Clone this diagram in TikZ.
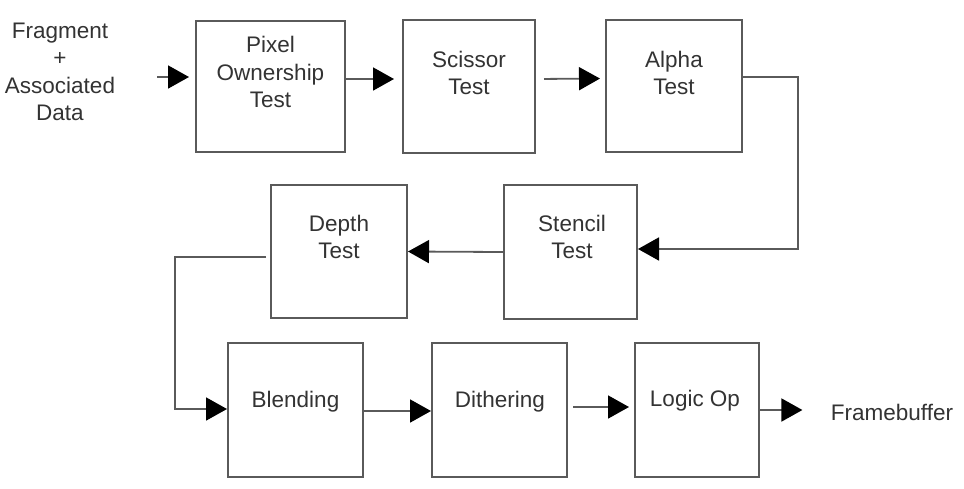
\documentclass[tikz,border=0pt]{standalone}
\usepackage{fontspec}
\setmainfont{Liberation Sans}
\usetikzlibrary{arrows.meta}
\definecolor{linegray}{HTML}{5A5A5A}
\definecolor{txtgray}{HTML}{333333}
\begin{document}
\begin{tikzpicture}[x=1pt,y=-1pt,
  stagebox/.style={draw=linegray, line width=2pt, fill=white, inner sep=0pt, anchor=center},
  stagetext/.style={text=txtgray, font=\fontsize{22.5}{27.5}\selectfont, align=center},
  arr/.style={draw=linegray, line width=1.8pt, -{Triangle[length=21pt,width=23pt,black]}}]
\useasboundingbox (0,0) rectangle (964,488);
% boxes
\node[stagebox, minimum width=149pt, minimum height=131pt] (pix) at (270.5,86.5) {};
\node[stagebox, minimum width=132pt, minimum height=133pt] (sci) at (469,86.5) {};
\node[stagebox, minimum width=136pt, minimum height=132pt] (alp) at (674,86) {};
\node[stagebox, minimum width=133pt, minimum height=134pt] (ste) at (570.5,252) {};
\node[stagebox, minimum width=136pt, minimum height=133pt] (dep) at (339,251.5) {};
\node[stagebox, minimum width=135pt, minimum height=134pt] (ble) at (295.5,410) {};
\node[stagebox, minimum width=135pt, minimum height=134pt] (dit) at (499.5,410) {};
\node[stagebox, minimum width=124pt, minimum height=134pt] (log) at (697,410) {};
% texts
\node[stagetext] (pixt) at (270.5,72) {Pixel\\Ownership\\Test};
\node[stagetext] (scit) at (469,73) {Scissor\\Test};
\node[stagetext] (alpt) at (674,73) {Alpha\\Test};
\node[stagetext] (stet) at (572,237) {Stencil\\Test};
\node[stagetext] (dept) at (339,237) {Depth\\Test};
\node[stagetext] (blet) at (295.5,402) {Blending};
\node[stagetext] (ditt) at (500,402) {Dithering};
\node[stagetext] (logt) at (695,401) {Logic Op};
\node[stagetext] (frag) at (60,72) {Fragment\\+\\Associated\\Data};
\node[stagetext] (fb) at (892,412) {Framebuffer};
\coordinate (fragout) at (157,77);
% connectors
\draw[arr, shorten >=6pt] (fragout) -- ([yshift=9.5pt]pix.west);
\draw[arr, shorten >=8pt] ([yshift=7.5pt]pix.east) -- ([yshift=7.5pt]sci.west);
\draw[arr, shorten <=8pt, shorten >=5pt] ([yshift=7.5pt]sci.east) -- ([yshift=7.5pt]alp.west);
\draw[arr] ([yshift=9pt]alp.east) -- ++(55,0) |- ([yshift=3pt]ste.east);
\draw[arr] (ste.west) -- (dep.east);
\draw[arr, shorten <=4pt] ([yshift=-5.5pt]dep.west) -- ++(-95,0) |- ([yshift=1pt]ble.west);
\draw[arr] ([yshift=-1pt]ble.east) -- ([yshift=-1pt]dit.west);
\draw[arr, shorten <=5pt, shorten >=5pt] ([yshift=3pt]dit.east) -- ([yshift=3pt]log.west);
\draw[arr, shorten >=25pt] (log.east) -- (log.east -| fb.west);
\end{tikzpicture}
\end{document}
